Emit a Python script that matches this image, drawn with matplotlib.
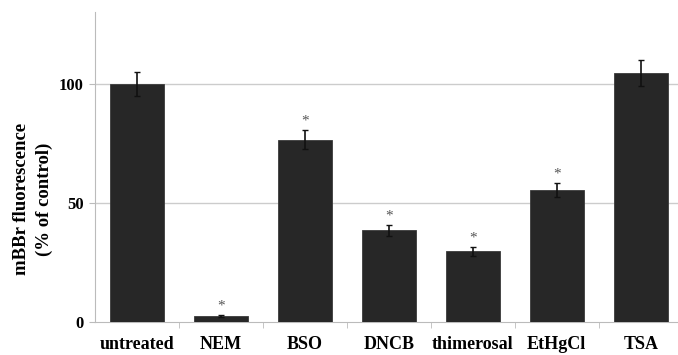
import numpy as np
import matplotlib
matplotlib.use('Agg')
import matplotlib.pyplot as plt

categories = ['untreated', 'NEM', 'BSO', 'DNCB', 'thimerosal', 'EtHgCl', 'TSA']
values = [100, 2.5, 76.5, 38.4, 29.6, 55.4, 104.3]
errors = [5.0, 0.5, 4.0, 2.3, 1.8, 3.0, 5.5]
significant = [False, True, True, True, True, True, False]

plt.rcParams['font.family'] = ['Liberation Serif', 'DejaVu Serif']

fig = plt.figure(figsize=(6.78, 3.55), dpi=100)
ax = fig.add_axes([0.140, 0.093, 0.862, 0.873])

x = np.arange(len(categories))
ax.bar(x, values, width=0.645, color='#272727', edgecolor='#3a3a3a',
       linewidth=0.6, zorder=3)
ax.errorbar(x, values, yerr=errors, fmt='none', ecolor='#111111',
            elinewidth=1.2, capsize=2.5, capthick=1.0, zorder=4)

# significance markers
for xi, v, e, s in zip(x, values, errors, significant):
    if s:
        ax.text(xi, v + e + 1.0, '*', ha='center', va='bottom',
                fontsize=11, color='#555555')

ax.set_xlim(-0.5, 6.46)
ax.set_ylim(0, 130)
ax.set_yticks([0, 50, 100])
ax.set_yticklabels(['0', '50', '100'], fontsize=12, fontweight='bold')
ax.set_xticks(x)
ax.set_xticklabels(categories, fontsize=13, fontweight='bold')
ax.set_xticks(np.arange(0.5, 6.5, 1.0), minor=True)
ax.tick_params(axis='x', which='major', length=0, pad=10)
ax.tick_params(axis='x', which='minor', length=4, color='#bbbbbb')
ax.tick_params(axis='y', length=4, color='#bbbbbb', pad=4)

for y in [50, 100]:
    ax.axhline(y, color='#cccccc', linewidth=1.0, zorder=1)

for side in ['top', 'right']:
    ax.spines[side].set_visible(False)
ax.spines['left'].set_color('#bbbbbb')
ax.spines['bottom'].set_color('#bbbbbb')

# y label sits a bit below the axis centre in the original
fig.text(33 / 678, 1 - 199 / 355, 'mBBr fluorescence\n(% of control)',
         rotation=90, ha='center', va='center', multialignment='center',
         fontsize=13.5, fontweight='bold', linespacing=1.45)

fig.savefig('out.png', dpi=100)
